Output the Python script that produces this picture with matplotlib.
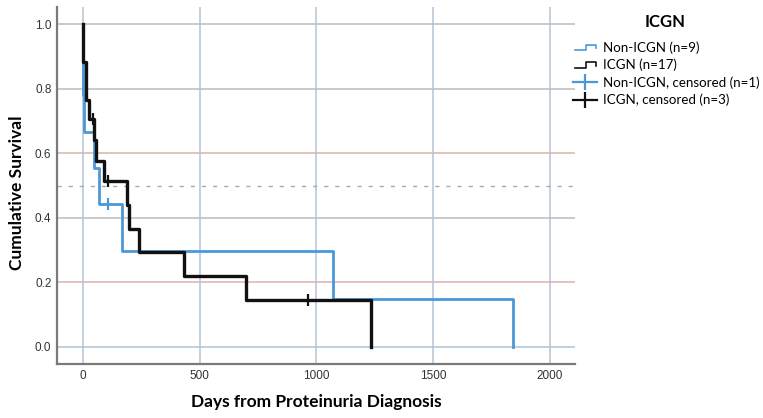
import matplotlib
matplotlib.use("Agg")
import matplotlib.pyplot as plt
from matplotlib.lines import Line2D
from matplotlib.legend_handler import HandlerBase

# Kaplan-Meier steps (days, cumulative survival)
non_icgn_days = [0, 3, 5, 47, 71, 168, 1070, 1841]
non_icgn_surv = [1.0, 0.78, 0.667, 0.556, 0.444, 0.296, 0.148, 0.0]
icgn_days = [0, 3, 13, 28, 50, 56, 90, 190, 200, 242, 432, 698, 1232]
icgn_surv = [1.0, 0.882, 0.765, 0.706, 0.642, 0.578, 0.513, 0.440, 0.367, 0.293, 0.220, 0.147, 0.0]

# censored observations
non_icgn_cens_days = [110]
non_icgn_cens_surv = [0.444]
icgn_cens_days = [43, 110, 965]
icgn_cens_surv = [0.706, 0.513, 0.147]

x_ticks = [0, 500, 1000, 1500, 2000]
y_ticks = [0.0, 0.2, 0.4, 0.6, 0.8, 1.0]

legend_labels = ["Non-ICGN (n=9)", "ICGN (n=17)",
                 "Non-ICGN, censored (n=1)", "ICGN, censored (n=3)"]

BLUE = "#4a98d8"
BLACK = "#111111"


class StepHandler(HandlerBase):
    # small step icon like the SPSS legend
    def create_artists(self, legend, orig_handle, xdescent, ydescent,
                       width, height, fontsize, trans):
        x0 = -xdescent
        xs = [x0 + 0.1 * width, x0 + 0.55 * width, x0 + 0.55 * width,
              x0 + 0.95 * width, x0 + 0.95 * width]
        ys = [0.15 * height, 0.15 * height, 0.75 * height,
              0.75 * height, 0.35 * height]
        line = Line2D(xs, ys, color=orig_handle.get_color(), lw=1.2)
        line.set_transform(trans)
        return [line]


fig = plt.figure(figsize=(7.63, 4.18), dpi=100)
ax = fig.add_axes([0.0747, 0.1292, 0.679, 0.854])

# grid lines
for y in y_ticks:
    c = "#d9b3ab" if y in (0.2, 0.6) else "#bcbcbc"
    if y == 0.0:
        c = "#aec4d8"
    ax.axhline(y, color=c, lw=1.1, zorder=1)
for x in x_ticks:
    ax.axvline(x, color="#b4c3d2", lw=1.1, zorder=1)
ax.axhline(0.5, color="#aaaaaa", lw=1.0, ls=(0, (3, 5)), zorder=1)

blue_line, = ax.step(non_icgn_days, non_icgn_surv, where="post",
                     color=BLUE, lw=2.0, zorder=3)
black_line, = ax.step(icgn_days, icgn_surv, where="post",
                      color=BLACK, lw=2.4, zorder=4)
ax.plot(non_icgn_cens_days, non_icgn_cens_surv, ls="none", marker="|",
        ms=9, mew=1.6, color=BLUE, zorder=5)
ax.plot(icgn_cens_days, icgn_cens_surv, ls="none", marker="|",
        ms=9, mew=1.6, color=BLACK, zorder=5)

ax.set_xlim(-110, 2107)
ax.set_ylim(-0.053, 1.054)
ax.set_xticks(x_ticks)
ax.set_yticks(y_ticks)
ax.set_yticklabels([f"{v:.1f}" for v in y_ticks])
ax.tick_params(length=0, labelsize=8.5, labelcolor="#333333", pad=4)
for lab in ax.get_xticklabels() + ax.get_yticklabels():
    lab.set_family("Liberation Sans")

for side in ["top", "right"]:
    ax.spines[side].set_visible(False)
for side in ["left", "bottom"]:
    ax.spines[side].set_color("#7a7a7a")
    ax.spines[side].set_linewidth(1.6)

ax.set_xlabel("Days from Proteinuria Diagnosis", fontsize=12.5,
              fontweight="bold", family="Lato")
ax.set_ylabel("Cumulative Survival", fontsize=12.5,
              fontweight="bold", family="Lato")
ax.xaxis.set_label_coords(0.5, -0.085)
ax.yaxis.set_label_coords(-0.062, 0.479)

handles = [
    Line2D([], [], color=BLUE),
    Line2D([], [], color=BLACK),
    Line2D([], [], color=BLUE, lw=1.6, marker="|", ms=12, mew=1.6),
    Line2D([], [], color=BLACK, lw=1.6, marker="|", ms=12, mew=1.6),
]
fig.legend(handles, legend_labels, loc="upper left",
           bbox_to_anchor=(0.751, 0.902), frameon=False,
           handlelength=1.8, handletextpad=0.45,
           labelspacing=0.38, borderpad=0, borderaxespad=0,
           prop={"family": "Lato", "size": 9.6},
           handler_map={handles[0]: StepHandler(),
                        handles[1]: StepHandler()})
# legend title placed separately so the gap above the entries matches
fig.text(0.872, 0.947, "ICGN", ha="center", va="center",
         fontsize=12, fontweight="bold", family="Lato")

fig.savefig("out.png", dpi=100)
